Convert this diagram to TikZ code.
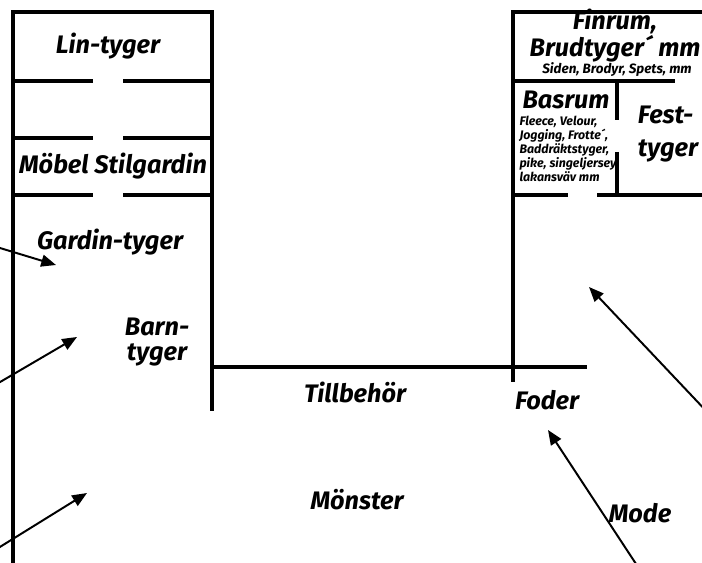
\documentclass[tikz,border=0pt]{standalone}
\usepackage{fontspec}
\setmainfont{Fira Sans}
\usetikzlibrary{backgrounds,arrows.meta}
\pgfdeclarelayer{edgelayer}
\pgfdeclarelayer{nodelayer}
\pgfsetlayers{edgelayer,nodelayer,main}
\tikzset{font=\bfseries\itshape}
\tikzstyle{none}=[inner sep=0pt]
\tikzstyle{wall}=[line width=2.85pt,line join=miter]
\tikzstyle{pointer}=[line width=1.4pt,-{Triangle[length=10.5pt,width=8.5pt]}]
\tikzstyle{big}=[inner sep=0pt,font=\bfseries\itshape\fontsize{18}{16}\selectfont]
\tikzstyle{small}=[inner sep=0pt,font=\bfseries\itshape\fontsize{9.6}{10}\selectfont]
\tikzstyle{tiny}=[inner sep=0pt,align=left,font=\bfseries\itshape\fontsize{8.8}{10}\selectfont]

\begin{document}
\begin{tikzpicture}[x=0.025cm,y=-0.025cm]
	\useasboundingbox (0,0) rectangle (702,563);
	\begin{pgfonlayer}{nodelayer}
		% left block
		\node [style=none] (0) at (13, 570) {};
		\node [style=none] (1) at (13, 12) {};
		\node [style=none] (2) at (212, 12) {};
		\node [style=none] (3) at (212, 411) {};
		\node [style=none] (4) at (13, 81) {};
		\node [style=none] (5) at (93, 81) {};
		\node [style=none] (6) at (123, 81) {};
		\node [style=none] (7) at (212, 81) {};
		\node [style=none] (8) at (13, 138) {};
		\node [style=none] (9) at (93, 138) {};
		\node [style=none] (10) at (123, 138) {};
		\node [style=none] (11) at (212, 138) {};
		\node [style=none] (12) at (13, 195) {};
		\node [style=none] (13) at (93, 195) {};
		\node [style=none] (14) at (123, 195) {};
		\node [style=none] (15) at (212, 195) {};
		\node [style=none] (16) at (212, 367) {};
		\node [style=none] (17) at (587, 367) {};
		% right block
		\node [style=none] (18) at (710, 12) {};
		\node [style=none] (19) at (513, 12) {};
		\node [style=none] (20) at (513, 382) {};
		\node [style=none] (21) at (513, 81) {};
		\node [style=none] (22) at (675, 81) {};
		\node [style=none] (23) at (617, 81) {};
		\node [style=none] (24) at (617, 120) {};
		\node [style=none] (25) at (617, 152) {};
		\node [style=none] (26) at (617, 195) {};
		\node [style=none] (27) at (513, 195) {};
		\node [style=none] (28) at (568, 195) {};
		\node [style=none] (29) at (597, 195) {};
		\node [style=none] (30) at (710, 195) {};
		% arrow ends
		\node [style=none] (31) at (-5, 246.5) {};
		\node [style=none] (32) at (56, 265) {};
		\node [style=none] (33) at (-5, 385) {};
		\node [style=none] (34) at (77, 337) {};
		\node [style=none] (35) at (-5, 550) {};
		\node [style=none] (36) at (87, 493) {};
		\node [style=none] (37) at (710, 415) {};
		\node [style=none] (38) at (589, 287) {};
		\node [style=none] (39) at (640, 570) {};
		\node [style=none] (40) at (548, 430) {};
		% labels
		\node [style=big] (41) at (108, 46) {Lin-tyger};
		\node [style=big] (42) at (113, 166) {Möbel Stilgardin};
		\node [style=big] (43) at (110, 242) {Gardin-tyger};
		\node [style=big, anchor=base] (44) at (157, 335) {Barn-};
		\node [style=big, anchor=base] (55) at (157, 360) {tyger};
		\node [style=big] (45) at (355, 392) {Tillbehör};
		\node [style=big] (46) at (547, 400) {Foder};
		\node [style=big] (47) at (357, 500) {Mönster};
		\node [style=big] (48) at (640, 513) {Mode};
		\node [style=big, align=center, font=\bfseries\itshape\fontsize{18}{17}\selectfont] (49) at (615, 36) {Finrum,\\Brudtyger´ mm};
		\node [style=small] (51) at (617, 70) {Siden, Brodyr, Spets, mm};
		\node [style=big] (52) at (566, 100) {Basrum};
		\node [style=tiny] (53) at (568, 149) {Fleece, Velour,\\Jogging, Frotte´,\\Baddräktstyger,\\pike, singeljersey\\lakansväv mm};
		\node [style=big, align=left, font=\bfseries\itshape\fontsize{18}{23}\selectfont] (54) at (668, 134) {Fest-\\tyger};
	\end{pgfonlayer}
	\begin{pgfonlayer}{edgelayer}
		\draw [style=wall] (0.center) to (1.center) to (2.center) to (3.center);
		\draw [style=wall] (4.center) to (5.center);
		\draw [style=wall] (6.center) to (7.center);
		\draw [style=wall] (8.center) to (9.center);
		\draw [style=wall] (10.center) to (11.center);
		\draw [style=wall] (12.center) to (13.center);
		\draw [style=wall] (14.center) to (15.center);
		\draw [style=wall] (16.center) to (17.center);
		\draw [style=wall] (18.center) to (19.center) to (20.center);
		\draw [style=wall] (21.center) to (22.center);
		\draw [style=wall] (23.center) to (24.center);
		\draw [style=wall] (25.center) to (26.center);
		\draw [style=wall] (27.center) to (28.center);
		\draw [style=wall] (29.center) to (30.center);
		\draw [style=pointer] (31.center) to (32.center);
		\draw [style=pointer] (33.center) to (34.center);
		\draw [style=pointer] (35.center) to (36.center);
		\draw [style=pointer] (37.center) to (38.center);
		\draw [style=pointer] (39.center) to (40.center);
	\end{pgfonlayer}
\end{tikzpicture}
\end{document}
